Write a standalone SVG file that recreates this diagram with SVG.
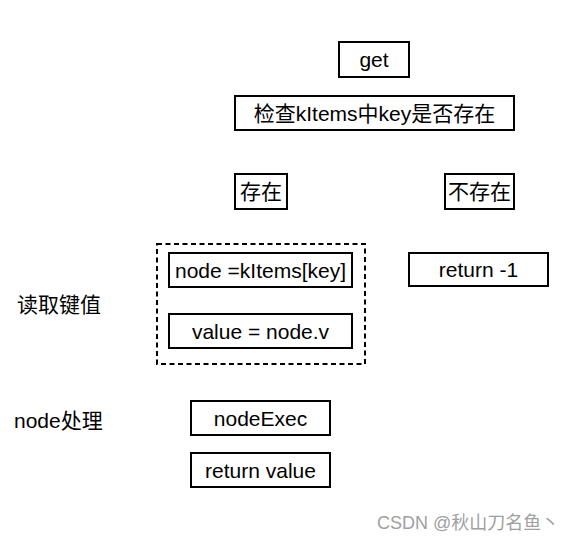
<svg xmlns="http://www.w3.org/2000/svg" width="575" height="543" viewBox="0 0 575 543">
<style>
text{font-family:"Liberation Sans","Noto Sans CJK SC",sans-serif;font-size:21px;fill:#000}
.c{text-anchor:middle}
.b{fill:#fff;stroke:#000;stroke-width:2}
.d{fill:none;stroke:#000;stroke-width:2;stroke-dasharray:5 3.5}
.wm{font-size:18px;fill:#a0a0a0}
</style>
<rect width="575" height="543" fill="#fff"/>
<g id="connectors"/>
<g id="get"><rect class="b" x="339" y="42" width="70" height="35"/><text class="c" x="374" y="67">get</text></g>
<g id="check"><rect class="b" x="235" y="96" width="279" height="34"/><text class="c" x="374.5" y="120.5">检查kItems中key是否存在</text></g>
<g id="exists"><rect class="b" x="235" y="174" width="52" height="35"/><text class="c" x="261" y="199">存在</text></g>
<g id="notexists"><rect class="b" x="445" y="174" width="69" height="35"/><text class="c" x="479.5" y="199">不存在</text></g>
<g id="readgroup"><rect class="d" x="157" y="244" width="208" height="120"/></g>
<g id="readlabel"><text x="17" y="312">读取键值</text></g>
<g id="nodeassign"><rect class="b" x="169" y="253" width="183" height="34"/><text class="c" x="260.5" y="277.5">node =kItems[key]</text></g>
<g id="valueassign"><rect class="b" x="169" y="314" width="183" height="34"/><text class="c" x="260.5" y="338.5">value = node.v</text></g>
<g id="returnneg"><rect class="b" x="409" y="253" width="139" height="33"/><text class="c" x="478.5" y="277">return -1</text></g>
<g id="nodelabel"><text x="14" y="428">node处理</text></g>
<g id="nodeexec"><rect class="b" x="191" y="401" width="139" height="34"/><text class="c" x="260.5" y="425.5">nodeExec</text></g>
<g id="returnvalue"><rect class="b" x="191" y="453" width="139" height="34"/><text class="c" x="260.5" y="477.5">return value</text></g>
<g id="watermark"><text class="wm" x="377" y="529">CSDN @秋山刀名鱼丶</text></g>
</svg>
